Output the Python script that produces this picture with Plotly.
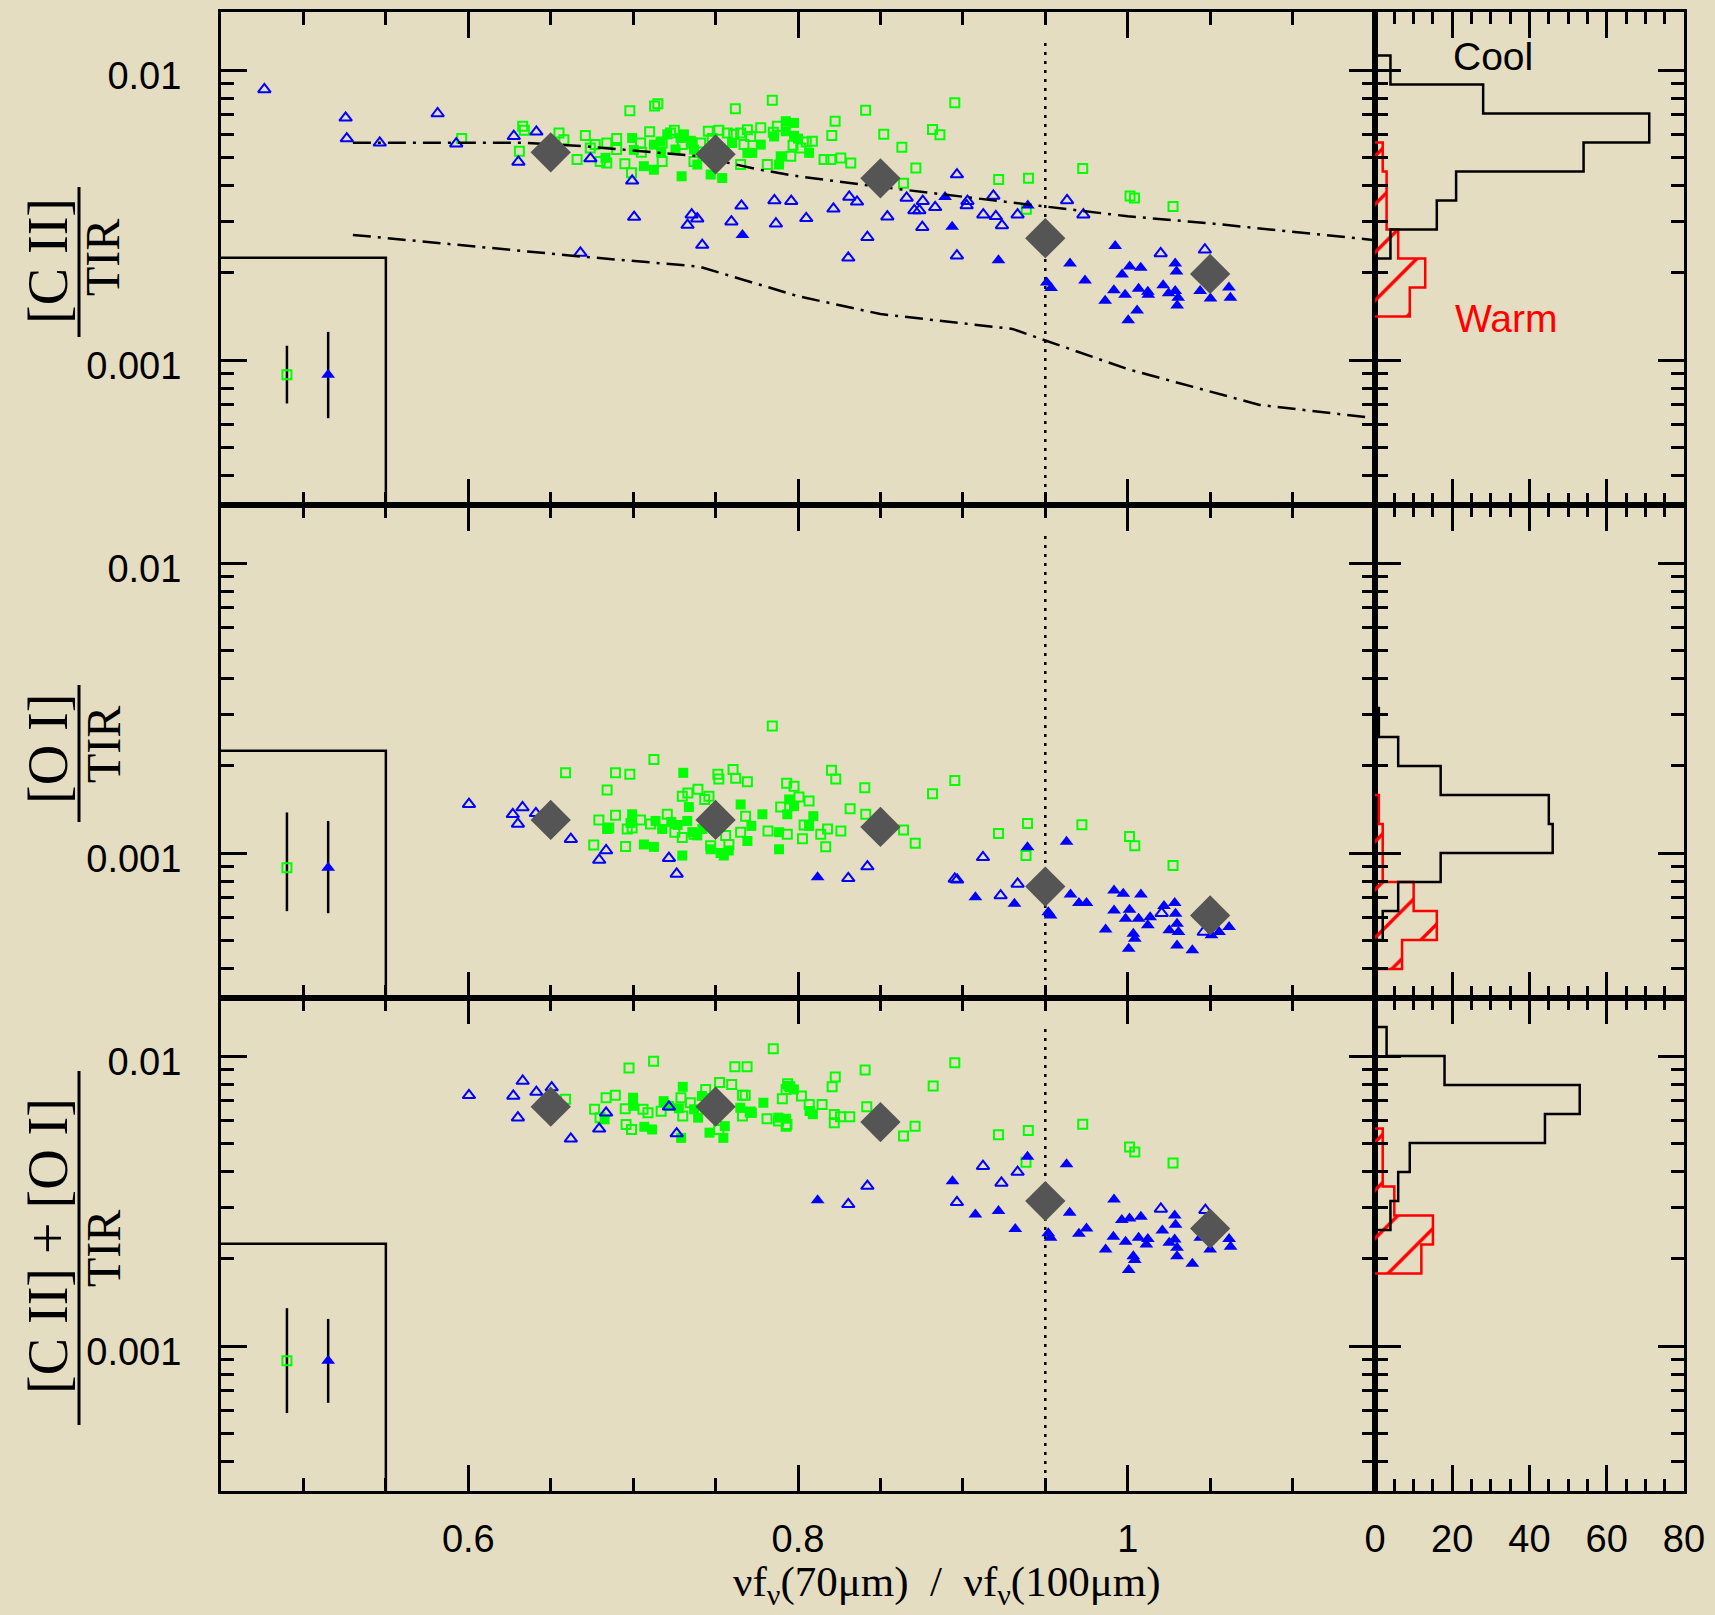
import plotly.graph_objects as go

W, H = 1715, 1615
BG = "#e4ddc1"
GREEN = "#00ff00"
BLUE = "#0000ff"
RED = "#ff0000"
DIA = "#555555"
SANS = "Liberation Sans, Arial, sans-serif"
SERIF = "Liberation Serif, Times New Roman, serif"

# ---------------- data ----------------
x_range = [0.45, 1.15]
y_log_range = [-3.5, -1.8]
x_major = [0.6, 0.8, 1.0]
x_major_text = ["0.6", "0.8", "1"]
x_minor = [0.5, 0.55, 0.65, 0.7, 0.75, 0.85, 0.9, 0.95, 1.05, 1.1]
y_major = [0.001, 0.01]
y_major_text = ["0.001", "0.01"]
y_minor = [0.0004, 0.0005, 0.0006, 0.0007, 0.0008, 0.0009,
           0.002, 0.003, 0.004, 0.005, 0.006, 0.007, 0.008, 0.009]
h_major = [0, 20, 40, 60, 80]
h_minor = [5, 10, 15, 25, 30, 35, 45, 50, 55, 65, 70, 75]

bin_x = [0.65, 0.75, 0.85, 0.95, 1.05]
p1_bin_y = [0.0052, 0.00512, 0.00423, 0.00263, 0.00198]
p2_bin_y = [0.0013, 0.0013, 0.00123, 0.000766, 0.000609]
p3_bin_y = [0.00669, 0.00669, 0.00592, 0.00316, 0.00254]

# model curves (panel 1)
model_hi_x = [0.53, 0.635, 0.67, 0.705, 0.74, 0.775, 0.80, 0.847, 0.90, 0.95, 1.00, 1.05, 1.10, 1.15]
model_hi_y = [0.00561, 0.00561, 0.00546, 0.00525, 0.00504, 0.00455, 0.0043, 0.00397, 0.00366,
              0.00338, 0.00313, 0.00296, 0.00277, 0.00259]
model_lo_x = [0.53, 0.60, 0.67, 0.74, 0.80, 0.85, 0.93, 1.00, 1.08, 1.15]
model_lo_y = [0.0027, 0.00248, 0.00227, 0.0021, 0.00166, 0.00144, 0.00128, 0.00093, 0.0007, 0.00063]

split_x = 0.95
split_y = [10 ** -3.5, 0.013]

# inset with typical error bars
inset_x = [0.55, 0.55, 0.45]
inset_top = 0.00225
err_x_green = 0.49
err_x_blue = 0.515
err_mark_y = 0.00089
p1_err_green = [0.000708, 0.00112]
p1_err_blue = [0.00063, 0.00125]
p2_err_green = [0.00063, 0.00138]
p2_err_blue = [0.00062, 0.00129]
p3_err_green = [0.000587, 0.00135]
p3_err_blue = [0.000637, 0.00124]

# ---- panel 1: [CII]/TIR ----
p1_gopen_x = [0.596, 0.633, 0.634, 0.631, 0.655, 0.658, 0.666, 0.671, 0.674, 0.677, 0.684, 0.680, 0.684,
              0.690, 0.695, 0.699, 0.698, 0.713, 0.715, 0.7045, 0.710, 0.7176, 0.7176, 0.7227, 0.7298,
              0.7358, 0.7369, 0.7456, 0.7409, 0.762, 0.7844, 0.7571, 0.761, 0.7652, 0.7693, 0.7713,
              0.7774, 0.7672, 0.7652, 0.7814, 0.7875, 0.7956, 0.8017, 0.8087, 0.8158, 0.8199, 0.826,
              0.832, 0.8205, 0.8225, 0.841, 0.852, 0.863, 0.8715, 0.864, 0.8816, 0.8861, 0.8951,
              0.9217, 0.9398, 0.9385, 0.9727, 1.0014, 1.0041, 1.0275,
              0.690, 0.705, 0.725, 0.748, 0.752, 0.785, 0.797, 0.805]
p1_gopen_y = [0.00581, 0.0064, 0.0062, 0.00525, 0.00607, 0.00575, 0.00491, 0.00595, 0.00538, 0.00553,
              0.0056, 0.00484, 0.00478, 0.00532, 0.00475, 0.00442, 0.00723, 0.00751, 0.00765, 0.0056,
              0.00612, 0.0056, 0.00484, 0.00607, 0.00553, 0.0056, 0.00484, 0.00615, 0.0056, 0.00735,
              0.00787, 0.00607, 0.0060, 0.00607, 0.00622, 0.0059, 0.00632, 0.00553, 0.00472, 0.00472,
              0.0064, 0.00504, 0.00538, 0.00568, 0.00491, 0.00491, 0.00497, 0.00478, 0.00594, 0.00666,
              0.00727, 0.0060, 0.00542, 0.00459, 0.00407, 0.00624, 0.00598, 0.00771, 0.00419, 0.00423,
              0.00331, 0.00457, 0.00368, 0.00362, 0.00338,
              0.0058, 0.0052, 0.0062, 0.0058, 0.0062, 0.0061, 0.0055, 0.00565]
p1_gfill_x = [0.6994, 0.7065, 0.7126, 0.7288, 0.7294, 0.7257, 0.7369, 0.7389, 0.747, 0.754, 0.7693,
              0.7723, 0.7774, 0.7895, 0.7885, 0.7926, 0.7976, 0.7926, 0.7976, 0.8067, 0.6832, 0.7126,
              0.7166, 0.7207, 0.7308, 0.7004, 0.745, 0.760, 0.800, 0.7855, 0.717, 0.735]
p1_gfill_y = [0.00583, 0.00466, 0.00453, 0.00583, 0.0043, 0.00532, 0.00532, 0.00472, 0.00436, 0.00424,
              0.00518, 0.00518, 0.00553, 0.00504, 0.00472, 0.00666, 0.00657, 0.00615, 0.00593, 0.00518,
              0.00498, 0.00553, 0.00567, 0.0060, 0.0060, 0.0053, 0.0052, 0.0056, 0.0058, 0.0059,
              0.0052, 0.0057]
p1_bopen_x = [0.4763, 0.5256, 0.5814, 0.5263, 0.5463, 0.5927, 0.6276, 0.6413, 0.6304, 0.6741, 0.6994,
              0.7006, 0.7355, 0.7389, 0.733, 0.7596, 0.7657, 0.7857, 0.7959, 0.7866, 0.7419, 0.668,
              0.805, 0.8215, 0.8311, 0.8358, 0.8542, 0.8421, 0.8305, 0.8659, 0.8757, 0.8706, 0.8736,
              0.8832, 0.8754, 0.8964, 0.9028, 0.9023, 0.8964, 0.9124, 0.9185, 0.92, 0.9237, 0.9332,
              0.9632, 0.9731, 1.02, 1.0468]
p1_bopen_y = [0.00857, 0.00684, 0.00708, 0.0058, 0.00561, 0.00557, 0.00591, 0.00612, 0.00482, 0.00495,
              0.00415, 0.00311, 0.00317, 0.00307, 0.00292, 0.0030, 0.0034, 0.00355, 0.00353, 0.00295,
              0.00249, 0.00234, 0.00308, 0.00332, 0.00365, 0.00351, 0.00312, 0.00265, 0.00225, 0.00362,
              0.00353, 0.00328, 0.00328, 0.00336, 0.00287, 0.00436, 0.00353, 0.00341, 0.00229, 0.00317,
              0.00368, 0.00313, 0.00291, 0.00317, 0.00355, 0.00317, 0.00233, 0.0024]
p1_bfill_x = [0.7663, 0.8892, 0.9394, 0.8935, 0.9216, 0.9509, 0.9535, 0.965, 0.9741, 0.9924, 0.9863,
              0.9916, 0.9966, 1.0012, 1.0079, 0.9984, 1.0066, 1.0122, 1.0125, 1.0057, 1.0003, 1.0215,
              1.0248, 1.0288, 1.0296, 1.0288, 1.0306, 1.03, 1.0439, 1.0502, 1.0614, 1.0623]
p1_bfill_y = [0.0027, 0.00365, 0.00341, 0.00288, 0.00221, 0.00185, 0.00177, 0.00215, 0.00188, 0.00247,
              0.0016, 0.00174, 0.00197, 0.0021, 0.00208, 0.00168, 0.00176, 0.00172, 0.00168, 0.00148,
              0.00137, 0.00181, 0.0017, 0.00215, 0.00202, 0.00173, 0.00164, 0.00154, 0.00173, 0.00163,
              0.00178, 0.00164]

# ---- panel 2: [OI]/TIR ----
p2_gopen_x = [0.659, 0.6893, 0.698, 0.6842, 0.7126, 0.6792, 0.6893, 0.6852, 0.6964, 0.6994, 0.6761,
              0.6954, 0.7045, 0.7105, 0.7207, 0.7253, 0.7298, 0.7332, 0.7393, 0.7434, 0.746, 0.7514,
              0.752, 0.7606, 0.7622, 0.7693, 0.7931, 0.7976, 0.8006, 0.8067, 0.7895, 0.7935, 0.8037,
              0.8027, 0.8138, 0.8168, 0.8179, 0.826, 0.7818, 0.7652, 0.7682, 0.7561, 0.7581, 0.747,
              0.8203, 0.8229, 0.8405, 0.8816, 0.8316, 0.8411, 0.864, 0.8711, 0.7298, 0.7369, 0.7844,
              0.8951, 0.9216, 0.9392, 0.9383, 0.9722, 1.0011, 1.0043, 1.0275]
p2_gopen_y = [0.00189, 0.00189, 0.00187, 0.00165, 0.0021, 0.0013, 0.00135, 0.00122, 0.00121, 0.00122,
              0.001066, 0.001054, 0.0013, 0.00126, 0.00136, 0.00118, 0.00157, 0.00161, 0.00166, 0.00153,
              0.00157, 0.00187, 0.0018, 0.00194, 0.00181, 0.00176, 0.00174, 0.0017, 0.00156, 0.00151,
              0.00144, 0.00116, 0.00125, 0.00112, 0.00116, 0.00105, 0.00121, 0.00119, 0.00119, 0.00118,
              0.00134, 0.00115, 0.00107, 0.00106, 0.00193, 0.0018, 0.00168, 0.0016, 0.00142, 0.00136,
              0.0012, 0.00108, 0.00113, 0.00116, 0.00274,
              0.00178, 0.001168, 0.001264, 0.00098, 0.001251, 0.00114, 0.00106, 0.000905]
p2_gfill_x = [0.7304, 0.6994, 0.6984, 0.6842, 0.7065, 0.7126, 0.7136, 0.7176, 0.7231, 0.7298, 0.7338,
              0.7328, 0.7359, 0.7389, 0.747, 0.753, 0.755, 0.758, 0.7652, 0.7693, 0.7717, 0.7784,
              0.7885, 0.7885, 0.7946, 0.7976, 0.7935, 0.8067, 0.8093, 0.742, 0.727]
p2_gfill_y = [0.00189, 0.00136, 0.00127, 0.00121, 0.00107, 0.00105, 0.00129, 0.00121, 0.00128, 0.00098,
              0.00144, 0.00129, 0.00118, 0.00115, 0.00103, 0.0010, 0.00098, 0.00102, 0.00147, 0.0011,
              0.00124, 0.00136, 0.00118, 0.00103, 0.00153, 0.00145, 0.00136, 0.00124, 0.00134, 0.00121,
              0.00125]
p2_bopen_x = [0.6004, 0.627, 0.6329, 0.6301, 0.641, 0.6622, 0.6836, 0.6794, 0.7217, 0.7264, 0.8305,
              0.8421, 0.8951, 0.8965, 0.9122, 0.9229, 0.9332, 1.0206, 1.0461]
p2_bopen_y = [0.001473, 0.00136, 0.001435, 0.00126, 0.00137, 0.001116, 0.00102, 0.000946, 0.00096,
              0.000847, 0.000818, 0.000898, 0.000814, 0.000808, 0.000966, 0.000713, 0.000782, 0.00062,
              0.000534]
p2_bfill_x = [0.8119, 0.9076, 0.9313, 0.9392, 0.9629, 0.9518, 0.9532, 0.9653, 0.9704, 0.975, 0.9866,
              0.9917, 0.9973, 1.008, 0.9917, 1.0011, 0.9987, 1.0034, 1.0043, 1.0006, 1.0066, 1.0122,
              1.0136, 1.022, 1.0285, 1.029, 1.0299, 1.0252, 1.0308, 1.0299, 1.0392, 1.0508, 1.0554,
              1.0615]
p2_bfill_y = [0.000825, 0.000704, 0.000668, 0.001046, 0.001094, 0.000625, 0.000609, 0.000719, 0.000673,
              0.000673, 0.000545, 0.000742, 0.000723, 0.000719, 0.000633, 0.000637, 0.000593, 0.000527,
              0.000506, 0.000468, 0.000593, 0.000563, 0.000601, 0.000656, 0.000673, 0.000617, 0.00057,
              0.000541, 0.000534, 0.00048, 0.000462, 0.00052, 0.000534, 0.000556]

# ---- panel 3: ([CII]+[OI])/TIR ----
p3_gopen_x = [0.785, 0.7124, 0.6975, 0.7617, 0.7691, 0.7524, 0.7598, 0.7937, 0.7951, 0.8226, 0.8207,
              0.8407, 0.8951, 0.882, 0.9397, 0.9216, 0.9727, 1.0011, 1.0043, 1.0275, 0.9383, 0.864,
              0.871, 0.8417, 0.8258, 0.8314, 0.822, 0.822, 0.7928, 0.7812, 0.7663, 0.768, 0.8021,
              0.8068, 0.8146, 0.7928, 0.7905, 0.6836, 0.6892, 0.6952, 0.6766, 0.6799, 0.6957, 0.699,
              0.706, 0.709, 0.717, 0.729, 0.7301, 0.7347, 0.744, 0.7519, 0.7663, 0.771, 0.7882, 0.7933,
              0.659]
p3_gopen_y = [0.0106, 0.0096, 0.0091, 0.00919, 0.00919, 0.0081, 0.00798, 0.00802, 0.00783, 0.00846,
              0.00783, 0.00895, 0.00948, 0.00788, 0.00553, 0.00535, 0.00582, 0.00486, 0.00467, 0.00428,
              0.0043, 0.0053, 0.00573, 0.00669, 0.00617, 0.00617, 0.00629, 0.00589, 0.00573, 0.00608,
              0.00732, 0.00732, 0.00728, 0.00681, 0.00681, 0.00767, 0.00712, 0.00718, 0.00732, 0.00658,
              0.00655, 0.00613, 0.00581, 0.00558, 0.00655, 0.00637, 0.00645, 0.00718, 0.00621, 0.0069,
              0.00767, 0.00558, 0.00621, 0.00641, 0.00597, 0.00581, 0.0071]
p3_gfill_x = [0.7301, 0.6999, 0.700, 0.6827, 0.7068, 0.7115, 0.7185, 0.7217, 0.7277, 0.737, 0.7394,
              0.7291, 0.7463, 0.7547, 0.7556, 0.765, 0.772, 0.779, 0.7881, 0.7928, 0.7942, 0.7975,
              0.807, 0.809, 0.7417]
p3_gfill_y = [0.00783, 0.00718, 0.00673, 0.00605, 0.0057, 0.00558, 0.00699, 0.00673, 0.0066, 0.00655,
              0.00613, 0.00522, 0.00544, 0.00522, 0.00573, 0.00663, 0.00637, 0.0069, 0.00613, 0.00608,
              0.00788, 0.00767, 0.00646, 0.0063, 0.00728]
p3_bopen_x = [0.6004, 0.633, 0.6273, 0.6413, 0.6506, 0.6301, 0.6622, 0.6794, 0.6836, 0.7217, 0.7264,
              0.8421, 0.8305, 0.8964, 0.9122, 0.9234, 0.9332, 1.0201, 1.0471]
p3_bopen_y = [0.00732, 0.0082, 0.00728, 0.00751, 0.00778, 0.00613, 0.00518, 0.00561, 0.00637, 0.00668,
              0.0054, 0.00356, 0.00308, 0.00313, 0.00417, 0.00365, 0.00398, 0.00297, 0.00294]
p3_bfill_x = [0.8119, 0.8937, 0.9076, 0.9216, 0.9318, 0.9392, 0.9629, 0.9648, 0.9518, 0.9532, 0.9704,
              0.975, 0.9917, 0.9866, 0.9913, 0.9964, 1.0011, 1.008, 0.9987, 1.0066, 1.0122, 1.0113,
              1.0034, 1.0043, 1.0006, 1.021, 1.0285, 1.029, 1.0252, 1.0285, 1.0299, 1.0299, 1.0392,
              1.05, 1.0615, 1.0624, 1.044]
p3_bfill_y = [0.00318, 0.0037, 0.00284, 0.00292, 0.00253, 0.00449, 0.00423, 0.00288, 0.00245, 0.00236,
              0.00244, 0.00254, 0.0032, 0.00215, 0.00238, 0.00272, 0.00275, 0.00279, 0.00229, 0.00236,
              0.00234, 0.00224, 0.00204, 0.00198, 0.00183, 0.0025, 0.00282, 0.00262, 0.00227, 0.00233,
              0.00218, 0.00204, 0.00192, 0.00215, 0.00234, 0.0022, 0.00236]

# ---- histograms (bin edges in log10 of the ratio, top to bottom; counts per bin) ----
h1_cool_edges = [-1.95, -2.05, -2.15, -2.25, -2.35, -2.45, -2.55, -2.65]
h1_cool_counts = [4, 28, 71, 54, 21, 16, 4]
h1_warm_edges = [-2.25, -2.35, -2.45, -2.55, -2.65, -2.75, -2.85]
h1_warm_counts = [2, 3, 3, 6, 13, 9]
h2_cool_edges = [-2.5, -2.6, -2.7, -2.8, -2.9, -3.0, -3.1, -3.2, -3.3]
h2_cool_counts = [1, 6, 17, 45, 46, 17, 6, 2]
h2_warm_edges = [-2.8, -2.9, -3.0, -3.1, -3.2, -3.3, -3.4]
h2_warm_counts = [1, 2, 2, 10, 16, 7]
h3_cool_edges = [-1.9, -2.0, -2.1, -2.2, -2.3, -2.4, -2.5, -2.6]
h3_cool_counts = [3, 18, 53, 44, 9, 6, 4]
h3_warm_edges = [-2.25, -2.35, -2.45, -2.55, -2.65, -2.75]
h3_warm_counts = [2, 2, 5, 15, 12]

# ---------------- figure ----------------
def px(v):
    return v / W


def py(v):
    return 1 - v / H


XD = [px(221), px(1375)]
HD = [px(1375), px(1684)]
ROWS = [[py(505), py(12)], [py(998), py(505)], [py(1491), py(998)]]

fig = go.Figure()

panels = [
    dict(gox=p1_gopen_x, goy=p1_gopen_y, gfx=p1_gfill_x, gfy=p1_gfill_y,
         box=p1_bopen_x, boy=p1_bopen_y, bfx=p1_bfill_x, bfy=p1_bfill_y,
         biny=p1_bin_y, eg=p1_err_green, eb=p1_err_blue,
         ce=h1_cool_edges, cc=h1_cool_counts, we=h1_warm_edges, wc=h1_warm_counts),
    dict(gox=p2_gopen_x, goy=p2_gopen_y, gfx=p2_gfill_x, gfy=p2_gfill_y,
         box=p2_bopen_x, boy=p2_bopen_y, bfx=p2_bfill_x, bfy=p2_bfill_y,
         biny=p2_bin_y, eg=p2_err_green, eb=p2_err_blue,
         ce=h2_cool_edges, cc=h2_cool_counts, we=h2_warm_edges, wc=h2_warm_counts),
    dict(gox=p3_gopen_x, goy=p3_gopen_y, gfx=p3_gfill_x, gfy=p3_gfill_y,
         box=p3_bopen_x, boy=p3_bopen_y, bfx=p3_bfill_x, bfy=p3_bfill_y,
         biny=p3_bin_y, eg=p3_err_green, eb=p3_err_blue,
         ce=h3_cool_edges, cc=h3_cool_counts, we=h3_warm_edges, wc=h3_warm_counts),
]


def step_path(edges, counts):
    xs, ys = [0], [10 ** edges[0]]
    for k, c in enumerate(counts):
        xs += [c, c]
        ys += [10 ** edges[k], 10 ** edges[k + 1]]
    xs.append(0)
    ys.append(10 ** edges[-1])
    return xs, ys


ymin = 10 ** y_log_range[0]
tick_font = dict(family=SANS, size=38, color="black")

for i, p in enumerate(panels):
    n = i + 1
    xa = "x" if n == 1 else f"x{n}"
    ya = "y" if n == 1 else f"y{n}"
    xh = f"x{n + 3}"
    yh = f"y{n + 3}"
    common = dict(xaxis=xa, yaxis=ya, showlegend=False, hoverinfo="skip")

    # inset box
    fig.add_trace(go.Scatter(x=inset_x, y=[ymin, inset_top, inset_top], mode="lines",
                             line=dict(color="black", width=2.5), **common))
    # error bars
    fig.add_trace(go.Scatter(x=[err_x_green, err_x_green], y=p["eg"], mode="lines",
                             line=dict(color="black", width=2.5), **common))
    fig.add_trace(go.Scatter(x=[err_x_blue, err_x_blue], y=p["eb"], mode="lines",
                             line=dict(color="black", width=2.5), **common))
    fig.add_trace(go.Scatter(x=[err_x_green], y=[err_mark_y], mode="markers",
                             marker=dict(symbol="square-open", size=9, color=GREEN, line=dict(width=2)),
                             **common))
    fig.add_trace(go.Scatter(x=[err_x_blue], y=[err_mark_y], mode="markers",
                             marker=dict(symbol="triangle-up", size=12, color=BLUE, line=dict(width=0)),
                             **common))
    # dividing line
    fig.add_trace(go.Scatter(x=[split_x, split_x], y=split_y, mode="lines",
                             line=dict(color="black", width=2.5, dash="3px,6px"), **common))
    # points
    fig.add_trace(go.Scatter(x=p["gox"], y=p["goy"], mode="markers",
                             marker=dict(symbol="square-open", size=9, color=GREEN, line=dict(width=2)),
                             **common))
    fig.add_trace(go.Scatter(x=p["gfx"], y=p["gfy"], mode="markers",
                             marker=dict(symbol="square", size=10, color=GREEN, line=dict(width=0)),
                             **common))
    fig.add_trace(go.Scatter(x=p["box"], y=p["boy"], mode="markers",
                             marker=dict(symbol="triangle-up-open", size=11, color=BLUE, line=dict(width=2)),
                             **common))
    fig.add_trace(go.Scatter(x=p["bfx"], y=p["bfy"], mode="markers",
                             marker=dict(symbol="triangle-up", size=12, color=BLUE, line=dict(width=0)),
                             **common))
    if n == 1:
        for mx, my in ((model_hi_x, model_hi_y), (model_lo_x, model_lo_y)):
            fig.add_trace(go.Scatter(x=mx, y=my, mode="lines",
                                     line=dict(color="black", width=2.5, dash="18px,7px,3px,7px"),
                                     **common))
    # binned means
    fig.add_trace(go.Scatter(x=bin_x, y=p["biny"], mode="markers",
                             marker=dict(symbol="diamond", size=31, color=DIA, line=dict(width=0)),
                             **common))

    # histograms
    hcommon = dict(xaxis=xh, yaxis=yh, showlegend=False, hoverinfo="skip")
    wx, wy = step_path(p["we"], p["wc"])
    fig.add_trace(go.Scatter(x=wx, y=wy, mode="lines", fill="toself",
                             fillcolor="rgba(0,0,0,0)",
                             fillpattern=dict(shape="/", fgcolor=RED, bgcolor="rgba(0,0,0,0)",
                                              fgopacity=1, size=34, solidity=0.1),
                             line=dict(color=RED, width=2.5), **hcommon))
    cx, cy = step_path(p["ce"], p["cc"])
    fig.add_trace(go.Scatter(x=cx, y=cy, mode="lines", line=dict(color="black", width=2.5),
                             **hcommon))

    # axes
    last = n == 3
    xkey = "xaxis" if n == 1 else f"xaxis{n}"
    ykey = "yaxis" if n == 1 else f"yaxis{n}"
    axis_style = dict(ticks="inside", tickwidth=2.5, tickcolor="black", mirror="allticks",
                      showline=True, linewidth=3, linecolor="black", showgrid=False,
                      zeroline=False, tickfont=tick_font, automargin=False)
    fig.layout[xkey] = dict(domain=XD, range=x_range, anchor=ya, tickmode="array",
                            tickvals=x_major, ticktext=x_major_text, showticklabels=last,
                            ticklen=26, ticklabelstandoff=12,
                            minor=dict(tickmode="array", tickvals=x_minor, ticklen=13, tickwidth=2.5,
                                       tickcolor="black", ticks="inside", showgrid=False),
                            **axis_style)
    fig.layout[ykey] = dict(domain=ROWS[i], type="log", range=y_log_range, anchor=xa,
                            tickmode="array", tickvals=y_major, ticktext=y_major_text,
                            ticklen=26, ticklabelstandoff=29, ticklabelshift=6,
                            minor=dict(tickmode="array", tickvals=y_minor, ticklen=13, tickwidth=2.5,
                                       tickcolor="black", ticks="inside", showgrid=False),
                            **axis_style)
    fig.layout[f"xaxis{n + 3}"] = dict(domain=HD, range=[0, 80], anchor=yh, tickmode="array",
                                       tickvals=h_major, ticktext=[str(v) for v in h_major],
                                       showticklabels=last, ticklen=26, ticklabelstandoff=12,
                                       minor=dict(tickmode="array", tickvals=h_minor, ticklen=12,
                                                  tickwidth=2.5, tickcolor="black", ticks="inside",
                                                  showgrid=False),
                                       **axis_style)
    fig.layout[f"yaxis{n + 3}"] = dict(domain=ROWS[i], type="log", range=y_log_range, anchor=xh,
                                       tickmode="array", tickvals=y_major, showticklabels=False,
                                       ticklen=26,
                                       minor=dict(tickmode="array", tickvals=y_minor, ticklen=13,
                                                  tickwidth=2.5, tickcolor="black", ticks="inside",
                                                  showgrid=False),
                                       **axis_style)

# y-axis titles drawn as fractions
titles = [("[C II]", 261, 258, 187, 337), ("[O I]", 749, 745, 685, 822),
          ("[C II] + [O I]", 1246, 1249, 1071, 1425)]
ann = []
shapes = []
for num, ynum, yden, b0, b1 in titles:
    ann.append(dict(text=num, x=px(48), y=py(ynum), xref="paper", yref="paper", showarrow=False,
                    textangle=-90, xanchor="center", yanchor="middle",
                    font=dict(family=SERIF, size=56, color="black")))
    ann.append(dict(text="TIR", x=px(103), y=py(yden), xref="paper", yref="paper", showarrow=False,
                    textangle=-90, xanchor="center", yanchor="middle",
                    font=dict(family=SERIF, size=48, color="black")))
    shapes.append(dict(type="line", xref="paper", yref="paper", x0=px(79), x1=px(79),
                       y0=py(b1), y1=py(b0), line=dict(color="black", width=3)))

ann.append(dict(text="Cool", x=px(1493), y=py(57), xref="paper", yref="paper", showarrow=False,
                xanchor="center", yanchor="middle", font=dict(family=SANS, size=39, color="black")))
ann.append(dict(text="Warm", x=px(1506), y=py(318), xref="paper", yref="paper", showarrow=False,
                xanchor="center", yanchor="middle", font=dict(family=SANS, size=39, color=RED)))
ann.append(dict(text="νf<sub>ν</sub>(70μm)&nbsp;&nbsp;/&nbsp;&nbsp;νf<sub>ν</sub>(100μm)",
                x=px(946), y=py(1585), xref="paper", yref="paper", showarrow=False,
                xanchor="center", yanchor="middle", font=dict(family=SERIF, size=43, color="black")))

fig.update_layout(width=W, height=H, margin=dict(l=0, r=0, t=0, b=0, autoexpand=False),
                  autosize=False, paper_bgcolor=BG, plot_bgcolor=BG, annotations=ann,
                  shapes=shapes, showlegend=False)

fig.write_html("out.html", config={"displayModeBar": False, "responsive": False},
               post_script="document.body.style.margin='0';document.body.style.overflow='hidden';")
